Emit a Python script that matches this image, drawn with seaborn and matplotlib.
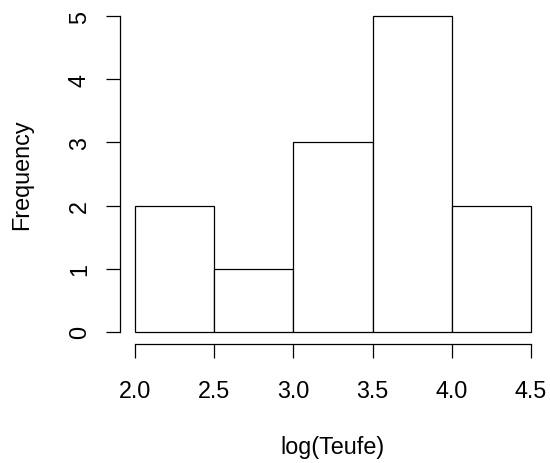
import matplotlib
matplotlib.use("Agg")
import matplotlib.pyplot as plt
import seaborn as sns

# Histogram of log(Teufe): bin edges and counts per bin
bin_edges = [2.0, 2.5, 3.0, 3.5, 4.0, 4.5]
counts = [2, 1, 3, 5, 2]
x_ticks = [2.0, 2.5, 3.0, 3.5, 4.0, 4.5]
x_tick_labels = ["2.0", "2.5", "3.0", "3.5", "4.0", "4.5"]
y_ticks = [0, 1, 2, 3, 4, 5]

sns.set_style("ticks")
plt.rcParams["font.family"] = ["Liberation Sans", "DejaVu Sans"]
plt.rcParams["text.color"] = "black"
plt.rcParams["axes.labelcolor"] = "black"

W, H = 550, 464
fig = plt.figure(figsize=(W / 100, H / 100), dpi=100)
left, right, top, bottom = 119.5, 546.5, 4.7, 345.3
ax = fig.add_axes([left / W, 1 - bottom / H, (right - left) / W, (bottom - top) / H])

centers = [(a + b) / 2 for a, b in zip(bin_edges[:-1], bin_edges[1:])]
sns.histplot(x=centers, weights=counts, bins=bin_edges, ax=ax,
             color="white", edgecolor="black", linewidth=0.9, alpha=1)

ax.set_xlim(1.9, 4.6)
ax.set_ylim(-0.2, 5.2)
ax.set_xticks(x_ticks)
ax.set_xticklabels(x_tick_labels)
ax.set_yticks(y_ticks)
ax.set_yticklabels([str(v) for v in y_ticks])

for s in ["top", "right"]:
    ax.spines[s].set_visible(False)
ax.spines["left"].set_bounds(0, 5)
ax.spines["bottom"].set_bounds(2.0, 4.5)
for s in ["left", "bottom"]:
    ax.spines[s].set_linewidth(0.9)
    ax.spines[s].set_color("black")

fs = 16.8
ax.tick_params(axis="both", length=10.2, width=0.9, color="black",
               labelsize=fs, labelcolor="black")
ax.tick_params(axis="x", pad=14.9)
ax.tick_params(axis="y", pad=10.5)
plt.setp(ax.get_yticklabels(), rotation=90, va="center")

ax.set_xlabel("log(Teufe)", fontsize=fs, labelpad=23.8)
ax.set_ylabel("Frequency", fontsize=fs, labelpad=24.9)
ax.grid(False)

fig.savefig("out.png", dpi=100)
